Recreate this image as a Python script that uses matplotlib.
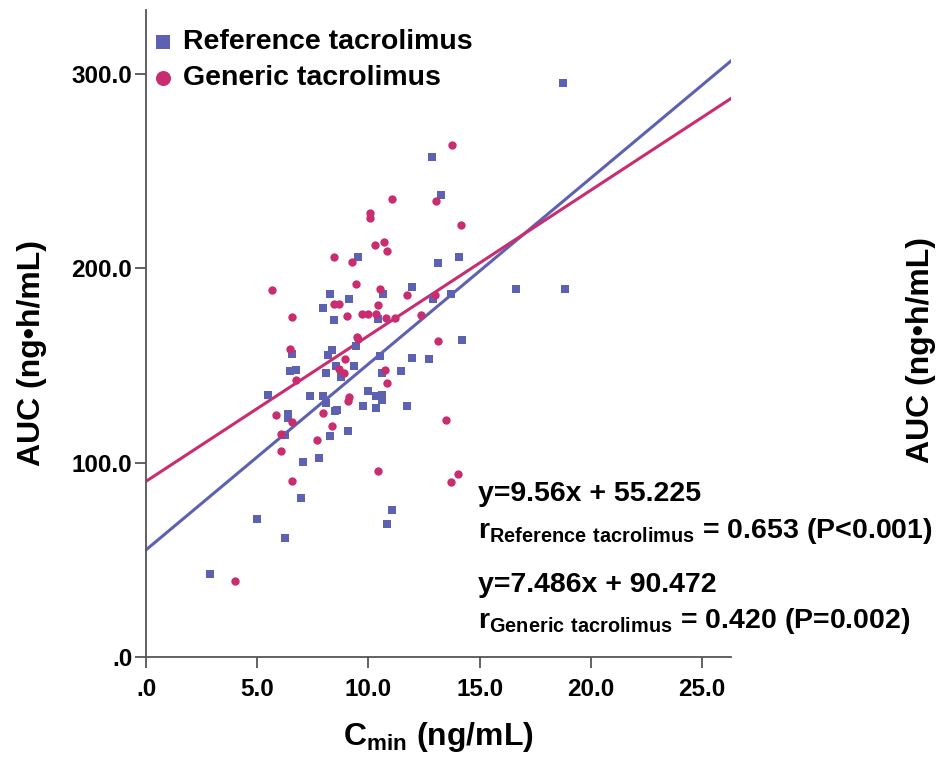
import matplotlib
matplotlib.use("Agg")
import matplotlib.pyplot as plt
import numpy as np

plt.rcParams["font.family"] = ["Liberation Sans", "DejaVu Sans"]
plt.rcParams["font.weight"] = "bold"
plt.rcParams["mathtext.fontset"] = "custom"
plt.rcParams["mathtext.rm"] = "Liberation Sans:bold"
plt.rcParams["mathtext.bf"] = "Liberation Sans:bold"

# Reference tacrolimus (Cmin, AUC)
refCmin = [2.85, 4.97, 6.26, 6.96, 7.05, 7.77, 8.25, 9.06, 6.26, 10.83, 11.05, 9.55, 14.06, 13.14,
           8.25, 9.13, 7.94, 8.45, 10.65, 11.96, 10.45, 12.90, 13.73, 8.34, 8.16, 9.45, 6.54, 6.45,
           6.74, 8.07, 8.56, 9.36, 8.77, 10.53, 11.95, 12.73, 14.22, 11.46, 10.61, 5.48, 7.37, 7.95,
           8.07, 9.96, 10.36, 10.63, 10.59, 9.75, 10.33, 11.73, 8.50, 8.60, 6.37, 6.39, 16.62, 18.82,
           18.73, 12.86, 13.25]
refAuc = [42.8, 71.0, 61.2, 82.1, 100.2, 102.4, 113.6, 116.5, 114.4, 68.7, 75.8, 206.0, 206.0, 202.7,
          186.9, 184.0, 179.4, 173.2, 187.0, 190.6, 173.7, 184.0, 187.0, 158.2, 155.5, 160.0, 155.7, 147.1,
          147.6, 146.1, 149.6, 150.0, 144.0, 154.8, 154.1, 153.4, 162.9, 147.1, 146.2, 134.9, 134.5, 134.5,
          130.8, 137.1, 134.2, 134.7, 132.5, 129.0, 128.0, 129.4, 126.8, 127.3, 125.1, 123.0, 189.5, 189.2,
          295.2, 257.4, 237.6]

# Generic tacrolimus (Cmin, AUC)
genCmin = [4.00, 6.57, 6.06, 6.06, 6.54, 7.67, 8.36, 10.45, 13.73, 14.04, 13.50, 8.45, 9.25, 10.84,
           5.67, 9.45, 10.54, 8.45, 8.68, 10.45, 11.74, 13.01, 6.57, 9.04, 9.73, 9.96, 10.35, 10.78,
           11.19, 12.34, 9.49, 9.54, 6.45, 8.95, 8.68, 8.88, 10.74, 10.83, 13.14, 6.74, 9.13, 9.07,
           7.94, 5.85, 13.77, 13.04, 11.06, 10.06, 10.06, 14.15, 10.28, 10.68]
genAuc = [39.3, 90.4, 105.8, 115.0, 120.8, 111.5, 118.7, 95.5, 90.2, 94.0, 122.2, 205.8, 203.4, 208.9,
          188.7, 191.9, 189.5, 181.4, 181.8, 181.3, 186.2, 186.4, 175.0, 175.6, 176.3, 176.3, 176.6, 174.2,
          174.4, 175.9, 164.8, 163.4, 158.6, 153.6, 148.1, 146.2, 147.9, 141.1, 162.4, 142.4, 133.7, 131.6,
          125.8, 124.6, 263.4, 234.7, 235.6, 228.7, 225.8, 222.4, 212.2, 213.6]

# fitted lines as printed on the chart
refSlope, refIntercept = 9.56, 55.225
genSlope, genIntercept = 7.486, 90.472

xTicks = [0, 5, 10, 15, 20, 25]
yTicks = [0, 100, 200, 300]

blueColor = "#5d61b2"
redColor = "#c92d6f"


def spssLabel(value: float) -> str:
    text = f"{value:.1f}"
    return text[1:] if text.startswith("0") else text


fig = plt.figure(figsize=(9.37, 7.57), dpi=100)
ax = fig.add_axes([0.156, 0.132, 0.624, 0.855])

xMax, yMax = 26.3, 333.0
ax.set_xlim(0, xMax)
ax.set_ylim(0, yMax)

ax.scatter(refCmin, refAuc, marker="s", s=34, color=blueColor, linewidths=0, zorder=3,
           label="Reference tacrolimus")
ax.scatter(genCmin, genAuc, marker="o", s=36, color=redColor, linewidths=0, zorder=3,
           label="Generic tacrolimus")

lineX = np.array([0.0, xMax])
ax.plot(lineX, refSlope * lineX + refIntercept, color=blueColor, linewidth=2.2, zorder=2)
ax.plot(lineX, genSlope * lineX + genIntercept, color=redColor, linewidth=2.2, zorder=2)

ax.spines["top"].set_visible(False)
ax.spines["right"].set_visible(False)
for side in ["left", "bottom"]:
    ax.spines[side].set_color("#555555")
    ax.spines[side].set_linewidth(1.3)

ax.set_xticks(xTicks)
ax.set_yticks(yTicks)
ax.set_xticklabels([spssLabel(v) for v in xTicks])
ax.set_yticklabels([spssLabel(v) for v in yTicks])
ax.tick_params(axis="both", length=8, width=1.3, color="#555555", labelsize=17.5)
ax.tick_params(axis="x", pad=7)
ax.tick_params(axis="y", pad=2)
for lab in ax.get_xticklabels() + ax.get_yticklabels():
    lab.set_fontweight("bold")

ax.set_xlabel(r"C$_{\rm min}$ (ng/mL)", fontsize=23, fontweight="bold", labelpad=14)
ax.set_ylabel("AUC (ng•h/mL)", fontsize=23, fontweight="bold")
ax.yaxis.set_label_coords(-0.17, 0.47)

legend = ax.legend(loc="upper left", frameon=False, fontsize=20.5, handletextpad=0.2,
                   borderaxespad=0.05, labelspacing=0.35, markerscale=1.8,
                   bbox_to_anchor=(-0.018, 0.99), handlelength=1.0)
for txt in legend.get_texts():
    txt.set_fontweight("bold")

textSize = 20.5
textX = 0.567
ax.text(textX, 0.252, "y=9.56x + 55.225", transform=ax.transAxes, fontsize=textSize,
        fontweight="bold", va="center", ha="left")
ax.text(textX, 0.195, r"r$_{\rm Reference\ tacrolimus}$ = 0.653 (P<0.001)", transform=ax.transAxes,
        fontsize=textSize, fontweight="bold", va="center", ha="left", clip_on=False)
ax.text(textX, 0.111, "y=7.486x + 90.472", transform=ax.transAxes, fontsize=textSize,
        fontweight="bold", va="center", ha="left")
ax.text(textX, 0.056, r"r$_{\rm Generic\ tacrolimus}$ = 0.420 (P=0.002)", transform=ax.transAxes,
        fontsize=textSize, fontweight="bold", va="center", ha="left", clip_on=False)

# partial axis label from the neighbouring panel
fig.text(0.983, 0.538, "AUC (ng•h/mL)", rotation=90, fontsize=23, fontweight="bold",
         ha="center", va="center")

fig.savefig("out.png", dpi=100)
